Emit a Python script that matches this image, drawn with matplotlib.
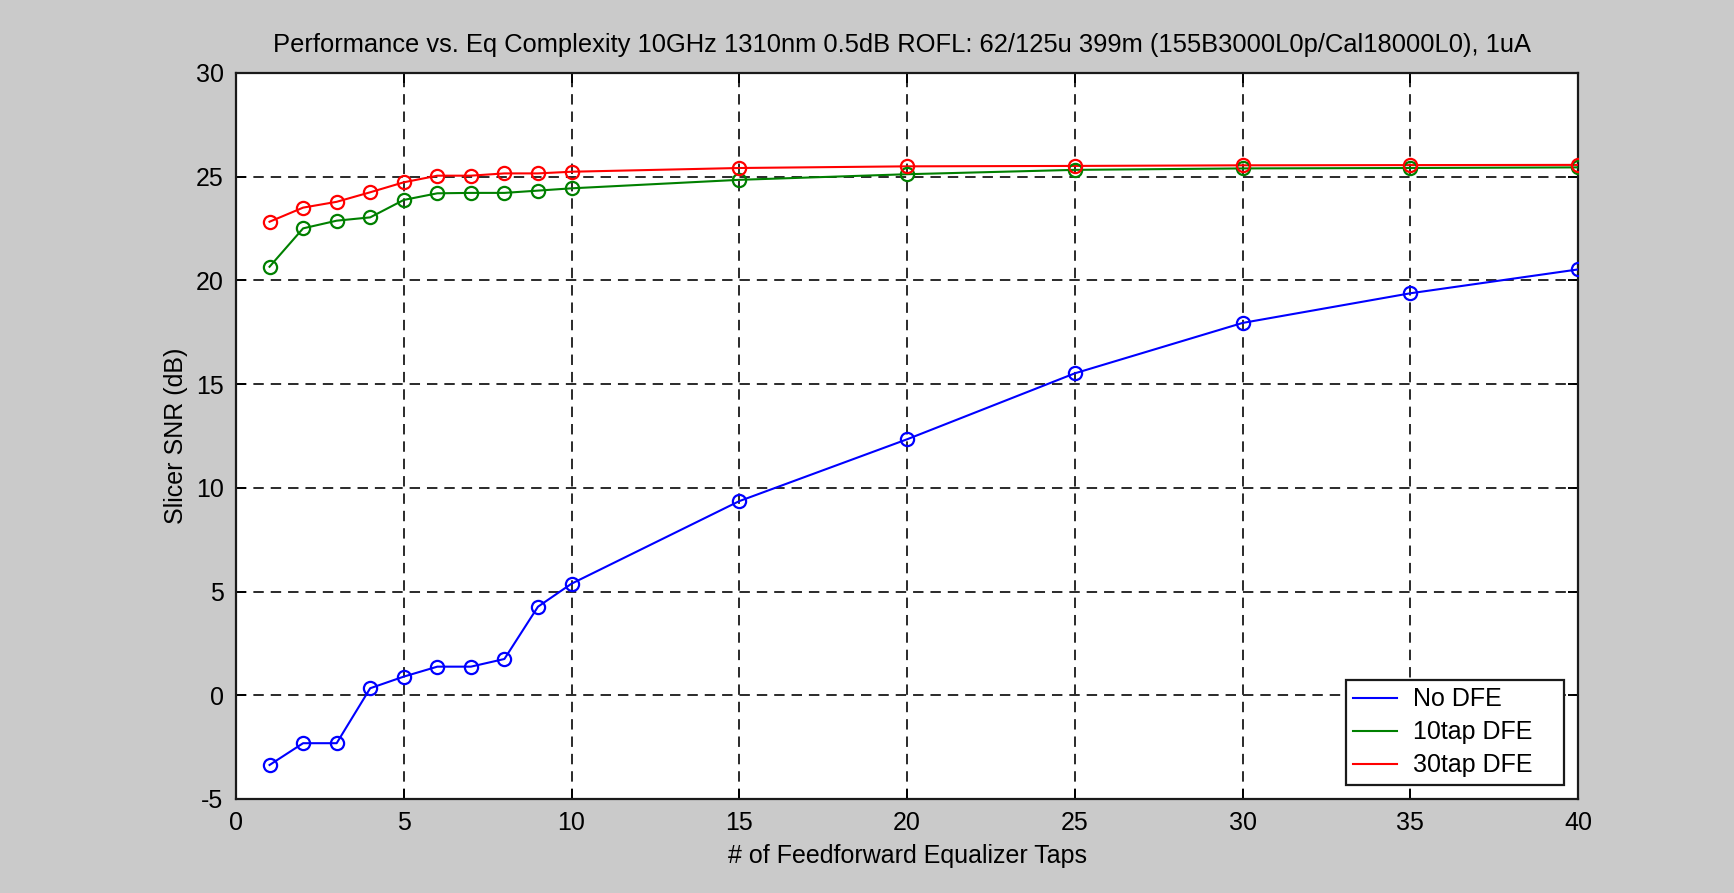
import matplotlib
matplotlib.use("Agg")  # No display available, render straight to file
import matplotlib.pyplot as plt  # Imports pyplot for building the figure

# Number of feedforward equalizer taps
taps = [1, 2, 3, 4, 5, 6, 7, 8, 9, 10, 15, 20, 25, 30, 35, 40]

# Slicer SNR (dB) for each equalizer configuration
snr_no_dfe = [-3.36, -2.31, -2.31, 0.34, 0.90, 1.38, 1.38, 1.75, 4.27, 5.38,
              9.36, 12.34, 15.52, 17.95, 19.38, 20.53]
snr_10tap = [20.66, 22.51, 22.88, 23.04, 23.88, 24.20, 24.22, 24.22, 24.33, 24.44,
             24.85, 25.12, 25.33, 25.40, 25.42, 25.45]
snr_30tap = [22.83, 23.51, 23.79, 24.25, 24.73, 25.05, 25.05, 25.16, 25.16, 25.24,
             25.42, 25.50, 25.52, 25.55, 25.56, 25.57]

series_labels = ["No DFE", "10tap DFE", "30tap DFE"]
series_colors = ["#0000ff", "#008000", "#ff0000"]

x_ticks = list(range(0, 45, 5))
y_ticks = list(range(-5, 35, 5))

title = ("Performance vs. Eq Complexity 10GHz 1310nm 0.5dB ROFL: 62/125u 399m "
         "(155B3000L0p/Cal18000L0), 1uA")

plt.rcParams["font.family"] = ["Liberation Sans", "DejaVu Sans"]
plt.rcParams["font.size"] = 18
plt.rcParams["lines.scale_dashes"] = False
plt.rcParams["axes.unicode_minus"] = False  # plain hyphen on negative ticks

bg = "#cacaca"
fig = plt.figure(figsize=(17.34, 8.93), dpi=100, facecolor=bg)
ax = fig.add_axes([236 / 1734, 1 - 799 / 893, (1578 - 236) / 1734, (799 - 73) / 893])
ax.set_facecolor("white")

# Dashed grid behind the data
ax.grid(True, color="#2a2a2a", linestyle=(0, (7.5, 5)), linewidth=1.4)
ax.set_axisbelow(True)

# Plot lines (for the legend) and open circle markers separately
for values, label, color in zip([snr_no_dfe, snr_10tap, snr_30tap], series_labels, series_colors):
    ax.plot(taps, values, color=color, linewidth=1.5, label=label, zorder=3)
    ax.plot(taps, values, linestyle="none", marker="o", markersize=9.5,
            markerfacecolor="none", markeredgecolor=color, markeredgewidth=1.6, zorder=4)

ax.set_xlim(0, 40)
ax.set_ylim(-5, 30)
ax.set_xticks(x_ticks)
ax.set_yticks(y_ticks)
ax.tick_params(direction="in", top=True, right=True, length=7, width=1.4,
               labelsize=18, pad=9)
for spine in ax.spines.values():
    spine.set_linewidth(1.6)
    spine.set_color("#1a1a1a")

ax.set_title(title, fontsize=18.4, pad=15, x=0.496)
ax.set_xlabel("# of Feedforward Equalizer Taps", fontsize=18, labelpad=6)
ax.set_ylabel("Slicer SNR (dB)", fontsize=18, labelpad=5.3)

# Legend box in the lower right corner, stretched to a fixed width
leg = ax.legend(loc="lower left", bbox_to_anchor=(0.827, 0.0193, 0.1626, 0.14),
                mode="expand", borderaxespad=0, fontsize=18, fancybox=False,
                framealpha=1, edgecolor="#1a1a1a", handlelength=1.76,
                handletextpad=0.64, labelspacing=0.36, borderpad=0.3)
leg.get_frame().set_linewidth(1.6)

plt.savefig("out.png", dpi=100, facecolor=bg)  # Saves the plot to a file
